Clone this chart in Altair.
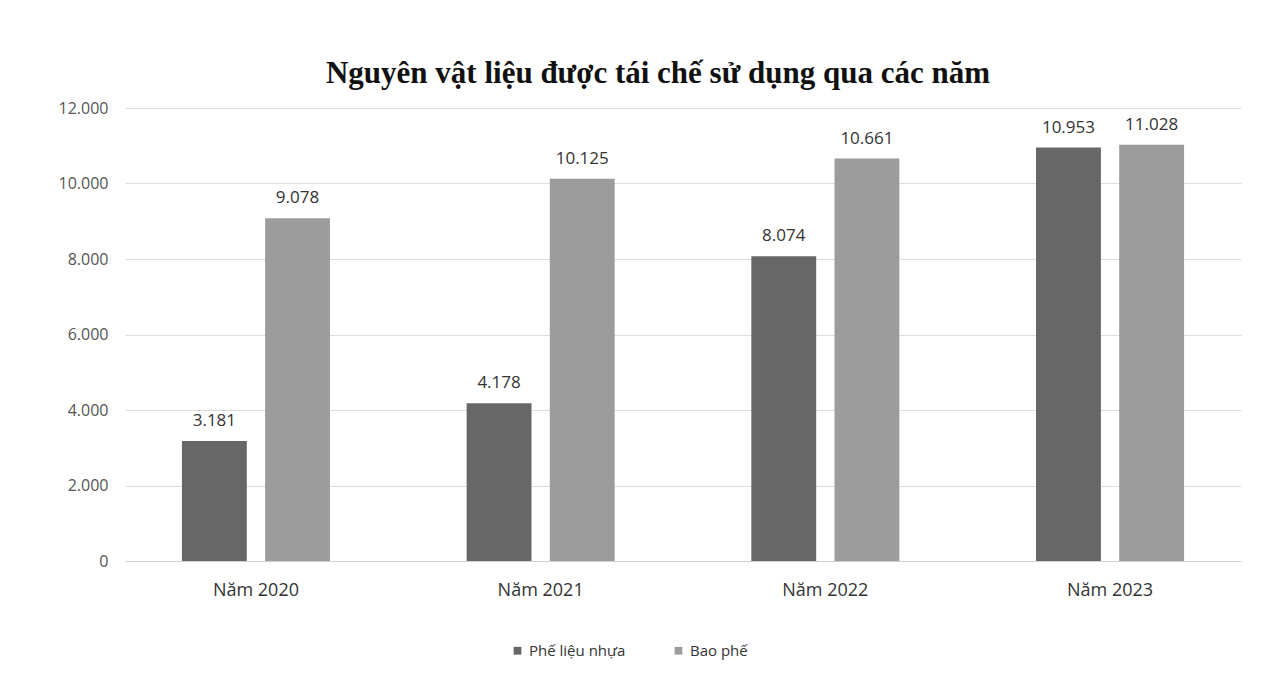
import altair as alt
import pandas as pd

years = ["Năm 2020", "Năm 2021", "Năm 2022", "Năm 2023"]
series = ["Phế liệu nhựa", "Bao phế"]
phe_lieu_nhua = [3181, 4178, 8074, 10953]
bao_phe = [9078, 10125, 10661, 11028]
colors = ["#676767", "#9c9c9c"]

rows = []
for i, y in enumerate(years):
    rows.append({"year": y, "series": series[0], "value": phe_lieu_nhua[i]})
    rows.append({"year": y, "series": series[1], "value": bao_phe[i]})
df = pd.DataFrame(rows)

base = alt.Chart(df).encode(
    x=alt.X("year:N", sort=years, title=None,
            scale=alt.Scale(paddingInner=0.48, paddingOuter=0.2),
            axis=alt.Axis(labelAngle=0, labelFont="Open Sans", labelFontSize=18,
                          labelColor="#333333", ticks=False, domainColor="#d0d0d0",
                          labelPadding=20)),
    xOffset=alt.XOffset("series:N", sort=series, scale=alt.Scale(paddingInner=0.22)),
)

bars = base.mark_bar().encode(
    y=alt.Y("value:Q", title=None,
            scale=alt.Scale(domain=[0, 12000]),
            axis=alt.Axis(values=[0, 2000, 4000, 6000, 8000, 10000, 12000],
                          labelExpr="replace(format(datum.value, ','), ',', '.')",
                          labelFont="Open Sans", labelFontSize=16, labelColor="#555555",
                          ticks=False, domain=False, gridColor="#dcdcdc",
                          labelPadding=17)),
    color=alt.Color("series:N", sort=series,
                    scale=alt.Scale(domain=series, range=colors),
                    legend=alt.Legend(orient="none", legendX=385, legendY=535,
                                      direction="horizontal", title=None,
                                      symbolType="square", symbolSize=60,
                                      labelFont="Open Sans", labelFontSize=15,
                                      labelColor="#333333", columnPadding=45)),
)

labels = base.mark_text(dy=-20, font="Open Sans", fontSize=17, color="#333333").transform_calculate(
    label="replace(format(datum.value, ','), ',', '.')"
).encode(
    y=alt.Y("value:Q"),
    text="label:N",
)

chart = (bars + labels).properties(
    width=1116, height=453,
    padding={"left": 50, "top": 50, "right": 5, "bottom": 5},
    title=alt.TitleParams("Nguyên vật liệu được tái chế sử dụng qua các năm",
                          font="Liberation Serif", fontSize=31, fontWeight="bold",
                          color="#111111", offset=10, dx=-25),
    background="#ffffff",
).configure_view(stroke=None)

chart.save("out.html", embed_options={"renderer": "svg", "actions": False})
